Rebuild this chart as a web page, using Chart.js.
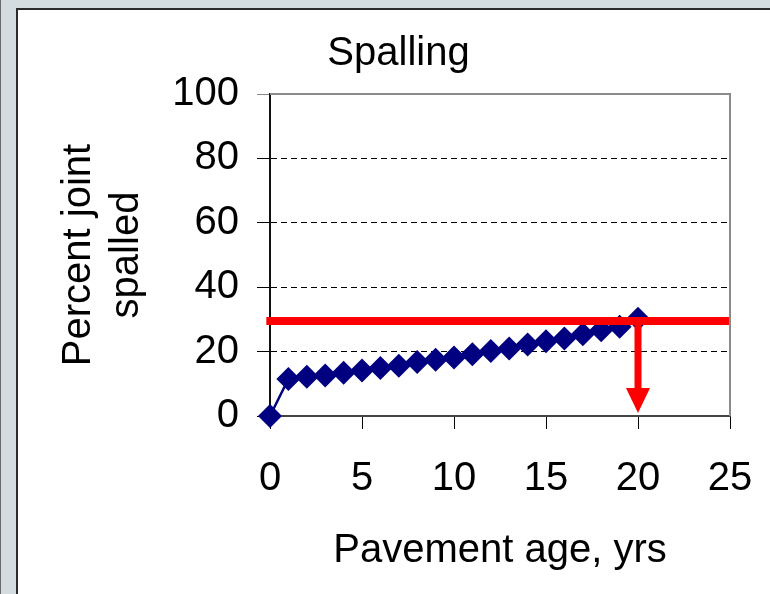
<!DOCTYPE html>
<html>
<head>
<meta charset="utf-8">
<script src="https://cdn.jsdelivr.net/npm/chart.js@4/dist/chart.umd.min.js"></script>
<style>
    html, body { margin: 0; padding: 0; width: 770px; height: 594px; overflow: hidden; }
    body { background: #d5dcdf; position: relative; }
    #edge { position: absolute; left: 0; top: 0; width: 1px; height: 594px; background: #6a6a6a; }
    #panel {
        position: absolute; left: 16px; top: 8px; right: 0; bottom: 0;
        background: #fff; border-left: 2px solid #2b2b2b; border-top: 2px solid #2b2b2b;
        overflow: hidden;
    }
    #spallChart { position: absolute; left: 0; top: 0; }
</style>
</head>
<body>
<div id="edge"></div>
<div id="panel">
    <canvas id="spallChart" width="761" height="584"></canvas>
</div>
<script>
// Pavement age (yrs) and percent of joints spalled
const ages = [0, 1, 2, 3, 4, 5, 6, 7, 8, 9, 10, 11, 12, 13, 14, 15, 16, 17, 18, 19, 20];
const percentSpalled = [0, 11.5, 12.2, 12.6, 13.4, 14.1, 14.9, 15.6, 16.8, 17.5, 18.2,
    19.2, 20.2, 21.0, 22.2, 23.2, 24.1, 25.4, 26.6, 27.7, 30.2];

// Spalling limit (red line) and the age where it is reached (red arrow)
const limitPercent = 29.5;
const limitRange = [-0.2, 25.05];
const designAge = 20;
const arrowHeadTop = 8.7;
const arrowTip = 0.9;

const ageTicks = [0, 5, 10, 15, 20, 25];
const percentTicks = [0, 20, 40, 60, 80, 100];

const FONT = 'Liberation Sans, Arial, sans-serif';

// red limit line + arrow, drawn over the data
const limitPlugin = {
    id: 'limitArrow',
    afterDatasetsDraw(chart) {
        const ctx = chart.ctx;
        const xs = chart.scales.x, ys = chart.scales.y;
        const yLine = ys.getPixelForValue(limitPercent);
        const xa = xs.getPixelForValue(designAge);
        const headTop = ys.getPixelForValue(arrowHeadTop);
        const tip = ys.getPixelForValue(arrowTip);
        ctx.save();
        ctx.fillStyle = '#ff0000';
        ctx.fillRect(xs.getPixelForValue(limitRange[0]), yLine - 4,
            xs.getPixelForValue(limitRange[1]) - xs.getPixelForValue(limitRange[0]), 8);
        ctx.fillRect(xa - 3.5, yLine, 7, headTop - yLine + 1);
        ctx.beginPath();
        ctx.moveTo(xa - 12, headTop);
        ctx.lineTo(xa + 12, headTop);
        ctx.lineTo(xa, tip);
        ctx.closePath();
        ctx.fill();
        ctx.restore();
    },
    afterDraw(chart) {
        // grey top and right frame of the plot area
        const a = chart.chartArea, ctx = chart.ctx;
        ctx.save();
        ctx.strokeStyle = '#8a8a8a';
        ctx.lineWidth = 2;
        ctx.beginPath();
        ctx.moveTo(a.left, a.top);
        ctx.lineTo(a.right, a.top);
        ctx.lineTo(a.right, a.bottom);
        ctx.stroke();
        ctx.restore();
    }
};

new Chart(document.getElementById('spallChart'), {
    type: 'line',
    data: {
        datasets: [{
            data: ages.map((a, i) => ({ x: a, y: percentSpalled[i] })),
            borderColor: '#000080',
            backgroundColor: '#000080',
            borderWidth: 2.5,
            pointStyle: 'rectRot',
            pointRadius: 12,
            pointBorderWidth: 0,
            tension: 0,
            clip: false
        }]
    },
    options: {
        responsive: false,
        animation: false,
        layout: { padding: { left: 49, right: 49, top: 0, bottom: 0 } },
        plugins: {
            legend: { display: false },
            tooltip: { enabled: false },
            title: {
                display: true,
                text: 'Spalling',
                color: '#000',
                font: { family: FONT, size: 40, weight: 'normal', lineHeight: 1.2 },
                padding: { top: 20, bottom: 16 }
            }
        },
        scales: {
            x: {
                type: 'linear',
                min: 0, max: 25,
                afterBuildTicks: s => { s.ticks = ageTicks.map(v => ({ value: v })); },
                afterFit: s => { s.height = 178; },
                ticks: { color: '#000', padding: 26, maxRotation: 0,
                    font: { family: FONT, size: 40, lineHeight: 1.2 } },
                grid: { drawOnChartArea: false, tickLength: 13, tickColor: '#000', tickWidth: 1 },
                border: { color: '#444', width: 2 },
                title: {
                    display: true,
                    text: 'Pavement age, yrs',
                    color: '#000',
                    font: { family: FONT, size: 40, lineHeight: 1.2 },
                    padding: { top: 0, bottom: 19 }
                }
            },
            y: {
                min: 0, max: 100,
                afterBuildTicks: s => { s.ticks = percentTicks.map(v => ({ value: v })); },
                afterFit: s => { s.width = 203; },
                ticks: { color: '#000', padding: 18,
                    font: { family: FONT, size: 40, lineHeight: 1.2 } },
                grid: {
                    color: c => (c.tick && (c.tick.value === 0 || c.tick.value === 100)) ? 'rgba(0,0,0,0)' : '#000',
                    tickColor: c => (c.tick && c.tick.value === 100) ? '#8a8a8a' : '#000',
                    tickLength: 13,
                    lineWidth: 1
                },
                border: { color: '#111', width: 2, dash: [6, 4] },
                title: {
                    display: true,
                    text: ['Percent joint', 'spalled'],
                    color: '#000',
                    font: { family: FONT, size: 40, lineHeight: 1.2 },
                    padding: { top: -12, bottom: 0 }
                }
            }
        }
    },
    plugins: [limitPlugin]
});
</script>
</body>
</html>
